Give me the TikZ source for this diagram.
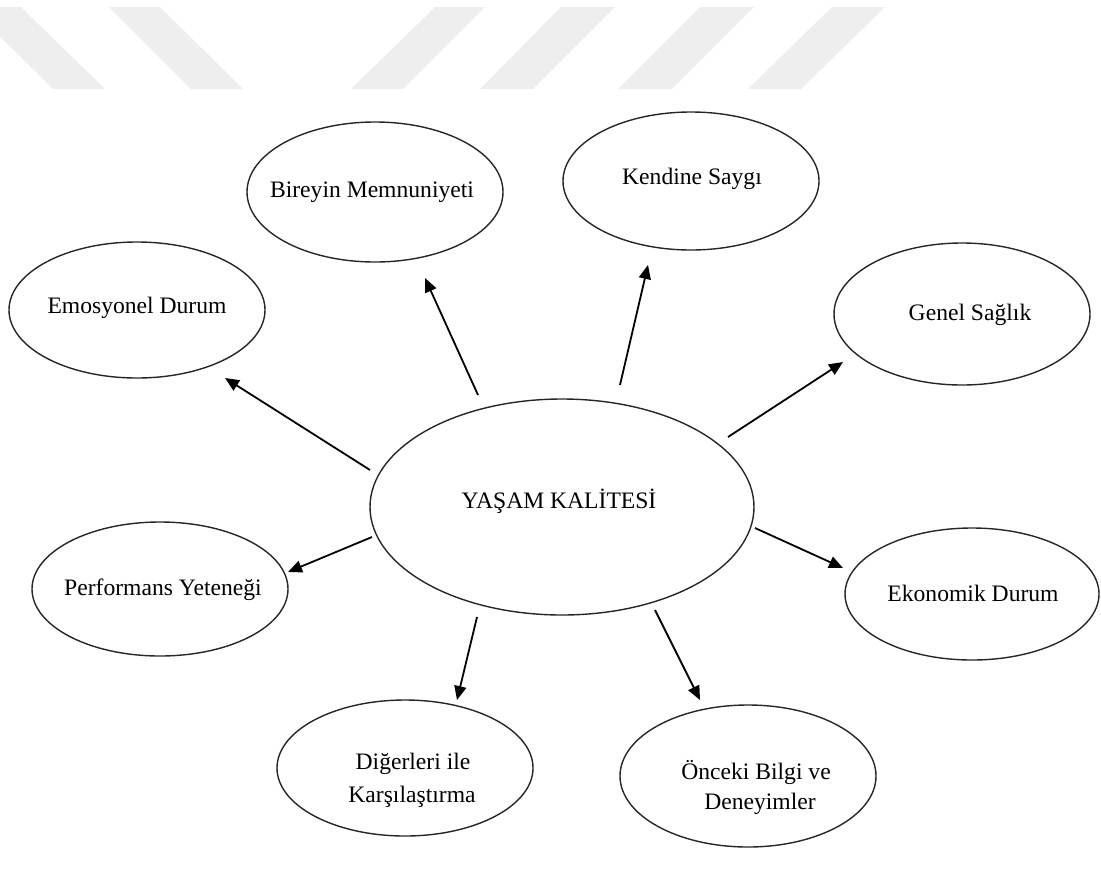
\documentclass[tikz,border=0pt]{standalone}
\usepackage{fontspec}
\setmainfont{Liberation Serif}
\usetikzlibrary{shapes.geometric,arrows.meta}
\definecolor{wm}{HTML}{EEEEEE}
\begin{document}
\begin{tikzpicture}[x=0.5pt,y=-0.5pt,
  blob/.style={draw=black!85,line width=0.7pt,ellipse,inner sep=0pt},
  lbl/.style={font=\fontsize{11.8}{16}\selectfont,anchor=base,inner sep=0pt,align=center},
  arr/.style={line width=0.9pt,-{Triangle[length=7pt,width=6pt]}},
  stripe/.style={fill=wm,draw=none}]
\useasboundingbox (0,0) rectangle (1101,868);
\begin{scope}
\clip (0,0) rectangle (1101,868);
\fill[stripe] (-30,7) -- (21,7) -- (105,89) -- (53,89) -- cycle;
\fill[stripe] (109,7) -- (160,7) -- (243,89) -- (191,89) -- cycle;
\fill[stripe] (435,7) -- (485,7) -- (403,89) -- (351,89) -- cycle;
\fill[stripe] (561,7) -- (615,7) -- (533,89) -- (480,89) -- cycle;
\fill[stripe] (700,7) -- (754,7) -- (672,89) -- (618,89) -- cycle;
\fill[stripe] (832,7) -- (885,7) -- (801,89) -- (748,89) -- cycle;
\end{scope}
% ellipses
\node[blob,minimum width=192pt,minimum height=108pt] (yk) at (562,507) {};
\node[blob,minimum width=128pt,minimum height=70pt] (bm) at (375,192) {};
\node[blob,minimum width=128pt,minimum height=69pt] (ks) at (691,181) {};
\node[blob,minimum width=128pt,minimum height=68pt] (ed) at (137,310) {};
\node[blob,minimum width=128pt,minimum height=71pt] (gs) at (962,314) {};
\node[blob,minimum width=128pt,minimum height=67pt] (py) at (160,589) {};
\node[blob,minimum width=127pt,minimum height=66pt] (ek) at (972,594) {};
\node[blob,minimum width=128pt,minimum height=68pt] (dk) at (405,768) {};
\node[blob,minimum width=128pt,minimum height=71pt] (ob) at (748,776) {};
% labels
\node[lbl] (tyk) at (559,508) {YAŞAM KALİTESİ};
\node[lbl] (tbm) at (372,197) {Bireyin Memnuniyeti};
\node[lbl] (tks) at (692,184) {Kendine Saygı};
\node[lbl] (ted) at (137,313) {Emosyonel Durum};
\node[lbl] (tgs) at (970,320) {Genel Sağlık};
\node[lbl] (tpy) at (163,595) {Performans Yeteneği};
\node[lbl] (tek) at (973,601) {Ekonomik Durum};
\node[lbl] (tdk1) at (413,769) {Diğerleri ile};
\node[lbl] (tdk2) at (412,802) {Karşılaştırma};
\node[lbl] (tob1) at (756,779) {Önceki Bilgi ve};
\node[lbl] (tob2) at (760,809) {Deneyimler};
% arrow ends
\coordinate (s1) at (370,470); \coordinate (e1) at (225,378);
\coordinate (s2) at (478,395); \coordinate (e2) at (425,278);
\coordinate (s3) at (620,385); \coordinate (e3) at (648,265);
\coordinate (s4) at (728,437); \coordinate (e4) at (843,362);
\coordinate (s5) at (372,537); \coordinate (e5) at (288,572);
\coordinate (s6) at (755,528); \coordinate (e6) at (843,568);
\coordinate (s7) at (477,617); \coordinate (e7) at (457,700);
\coordinate (s8) at (655,610); \coordinate (e8) at (700,700);
\draw[arr] (s1) -- (e1);
\draw[arr] (s2) -- (e2);
\draw[arr] (s3) -- (e3);
\draw[arr] (s4) -- (e4);
\draw[arr] (s5) -- (e5);
\draw[arr] (s6) -- (e6);
\draw[arr] (s7) -- (e7);
\draw[arr] (s8) -- (e8);
\end{tikzpicture}
\end{document}
